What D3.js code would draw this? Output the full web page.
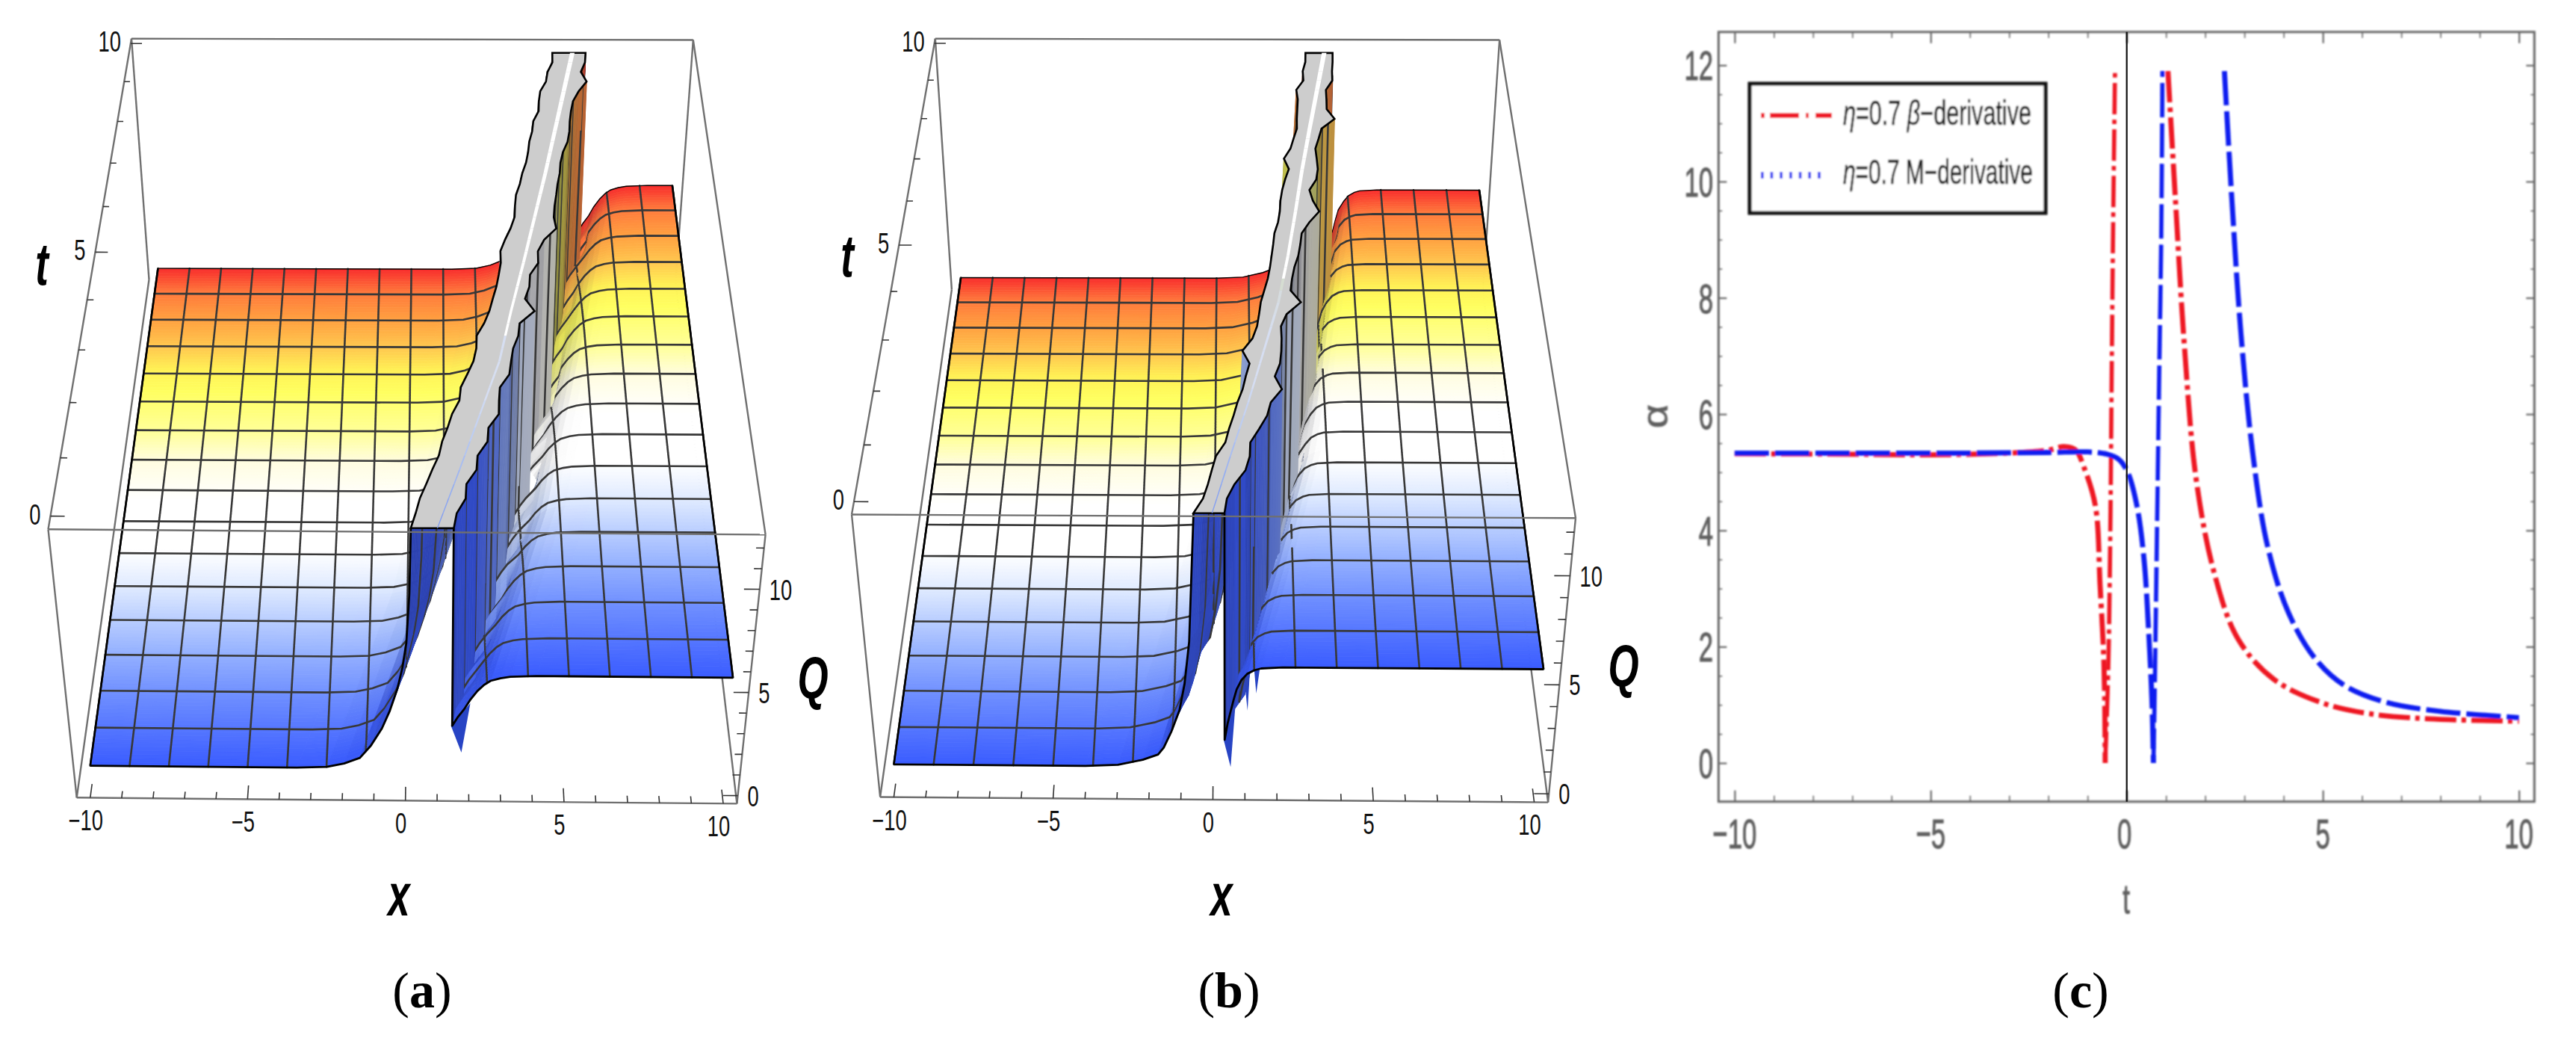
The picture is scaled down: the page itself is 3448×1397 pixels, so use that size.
<!DOCTYPE html>
<html>
<head>
<meta charset="utf-8">
<script src="https://cdnjs.cloudflare.com/ajax/libs/d3/7.8.5/d3.min.js"></script>
<style>
  body { margin: 0; background: #fff; }
  text { font-family: "Liberation Sans", Arial, sans-serif; }
</style>
</head>
<body>
<div id="chart"></div>
<script>
// ---- surface data (a) and (b) ----
var rowT = d3.range(0, 10.25, 0.25);
var bandLeftA = [0.15,0.29,0.41,0.6,0.78,0.98,1.08,1.25,1.39,1.62,1.67,1.88,2.08,2.18,2.2,2.45,2.63,2.75,2.88,2.97,3.05,3.05,3.22,3.42,3.57,3.6,3.65,3.8,3.9,4.05,4.14,4.2,4.32,4.38,4.59,4.62,4.69,4.92,5.0,5.2,5.22];
var bandRightA = [1.41,1.5,1.77,1.8,2.11,2.15,2.46,2.5,2.83,2.85,2.89,3.2,3.27,3.35,3.53,3.59,4.09,3.8,3.96,4.0,4.29,4.3,4.53,4.96,4.9,4.95,5.03,5.1,5.2,5.25,5.36,5.55,5.64,5.68,5.75,5.85,6.08,6.4,6.22,6.4,6.45];
var bandLeftB = [-0.57,-0.3,-0.16,-0.05,0.07,0.35,0.46,0.6,0.72,0.88,0.98,1.1,0.88,1.2,1.35,1.42,1.48,1.6,1.72,1.8,1.86,1.92,1.97,2.1,2.17,2.2,2.27,2.38,2.52,2.36,2.6,2.72,2.85,2.86,2.89,2.92,2.88,3.15,3.14,3.25,3.27];
var bandRightB = [0.33,0.4,0.62,0.95,1.08,1.1,1.37,1.62,1.74,2.09,1.88,2.05,2.1,2.12,2.11,2.3,2.77,2.45,2.51,2.6,2.74,2.82,2.88,3.15,3.5,3.3,3.2,3.45,3.52,3.5,3.47,3.6,3.72,4.2,3.94,3.95,3.95,4.2,4.21,4.25,4.27];
var crestT = d3.range(0, 11, 1);
var crestA = [0.93,1.6,2.25,2.9,3.33,3.8,4.25,4.7,5.12,5.54,5.96];
var crestB = [-0.03,0.5,1.05,1.55,2.05,2.4,2.7,2.98,3.3,3.63,3.96];

// height against distance from the band edge
var leftDistA = [-3.6,-2.65,-2.1,-1.6,-1.25,-0.9,-0.65,-0.4,-0.25,-0.13,-0.04,0];
var leftQA = [0.5,0.55,0.72,1.0,1.6,2.44,3.3,4.4,5.4,6.6,9.0,12.2];
var rightDistA = [0,0.04,0.2,0.4,0.6,0.8,1.0,1.2,1.5,1.8,2.6];
var rightQA = [12.2,2.6,3.0,3.4,3.9,4.3,4.6,4.8,4.93,5.0,5.05];
var leftDistB = [-3.4,-2.38,-1.6,-1.12,-0.94,-0.7,-0.46,-0.3,-0.15,-0.1,0];
var leftQB = [0.5,0.56,0.8,1.05,1.37,2.1,3.1,4.3,6.26,8.2,12.2];
var rightDistB = [0,0.03,0.12,0.2,0.3,0.39,0.55,0.73,0.95,1.15,1.8];
var rightQB = [12.2,1.75,2.5,3.0,3.6,4.07,4.5,4.8,4.97,5.05,5.1];

// little numeric spikes under the front edge: [x, Q] triples at t = 0
var spikesA = [[[1.41,2.6],[1.75,1.3],[2.0,3.7]]];
var spikesB = [[[0.33,1.75],[0.55,0.5],[0.72,4.07]], [[0.95,4.6],[1.06,3.1],[1.12,4.9]], [[1.25,5.0],[1.32,3.9],[1.42,5.05]]];

// colour function of the surfaces, along t
var colorT = [0,1.2,2,3.1,3.8,4.8,5.6,6.2,7.1,7.6,8.1,8.75,9.4,10];
var colorHex = ["#3a5cff","#6f8fff","#9ab5ff","#dfeaff","#ffffff","#ffffff","#fffde0","#ffff9a","#ffff60","#fff055","#ffc84f","#ffa040","#ff7a3c","#f82c2c"];

// ---- panel (c) curves ----
var redLeftT = [-10,-7,-5,-3,-2,-1.6,-1.3,-1.1,-0.8,-0.68,-0.58,-0.55];
var redLeftY = [5.32,5.31,5.3,5.33,5.38,5.44,5.38,5.1,4.42,3.05,1.67,0];
var redUpT = [-0.55,-0.47,-0.42,-0.39,-0.35,-0.3];
var redUpY = [0,1.67,3.96,6.25,9.1,11.9];
var redRightT = [1.05,1.24,1.47,1.77,2.23,2.84,3.75,4.96,6.17,7.7,10];
var redRightY = [11.9,9.7,7.17,4.88,3.27,2.13,1.44,1.04,0.85,0.76,0.72];
var blueLeftT = [-10,-7,-4,-2,-1,-0.5,-0.2,0.03,0.26,0.44,0.56,0.64,0.68];
var blueLeftY = [5.33,5.33,5.33,5.34,5.35,5.31,5.22,4.99,4.42,3.5,2.24,1.1,0];
var blueUpT = [0.68,0.71,0.77,0.83,0.88,0.91];
var blueUpY = [0,1.1,3.96,6.82,9.1,11.9];
var blueRightT = [2.49,2.68,2.91,3.21,3.59,4.12,4.81,5.56,6.63,7.99,10];
var blueRightY = [11.9,9.69,7.4,5.34,3.73,2.59,1.79,1.33,1.04,0.89,0.78];
var cTicksX = [-10,-5,0,5,10];
var cTicksY = [0,2,4,6,8,10,12];

var clipQ = 12.2, gridX = d3.range(-10, 10.01, 1.25), stepT = 0.0625;

var svg = d3.select("#chart").append("svg")
    .attr("width", 3448).attr("height", 1397)
    .style("display", "block");

svg.append("defs").append("filter").attr("id", "soft")
    .attr("filterUnits", "userSpaceOnUse")
    .attr("x", 2150).attr("y", 0).attr("width", 1298).attr("height", 1300)
  .append("feGaussianBlur").attr("stdDeviation", 0.8);

var uScale = d3.scaleLinear().domain([-10.43, 10.43]).range([0, 1]);
var vScale = d3.scaleLinear().domain([-0.22, 10.13]).range([0, 1]);
var qScale = d3.scaleLinear().domain([-0.39, 12.65]).range([0, 1]);
var tempColor = d3.scaleLinear().domain(colorT).range(colorHex);
// how far the walls lag behind the flats in colour
var wallLag = d3.scaleLinear().domain([4.5, 7]).range([1.3, 0]).clamp(true);

// unit square to a quadrilateral, corners: front L, front R, back R, back L
function quadMap(p) {
  var x0=p[0][0],y0=p[0][1],x1=p[1][0],y1=p[1][1],x2=p[2][0],y2=p[2][1],x3=p[3][0],y3=p[3][1];
  var dx1=x1-x2, dx2=x3-x2, sx=x0-x1+x2-x3, dy1=y1-y2, dy2=y3-y2, sy=y0-y1+y2-y3;
  var den=dx1*dy2-dx2*dy1, g=(sx*dy2-dx2*sy)/den, h=(dx1*sy-sx*dy1)/den;
  var a=x1-x0+g*x1, b=x3-x0+h*x3, d=y1-y0+g*y1, e=y3-y0+h*y3;
  return function(u, v) {
    var w=g*u+h*v+1;
    return [(a*u+b*v+x0)/w, (d*u+e*v+y0)/w];
  };
}

function drawSurface(cfg) {
  var g = svg.append("g");
  var bottom = quadMap(cfg.bottomCorners), top = quadMap(cfg.topCorners);

  function project(x, t, Q) {
    var u=uScale(x), v=vScale(t), q=qScale(Q), b=bottom(u,v), a=top(u,v);
    return [b[0]+(a[0]-b[0])*q, b[1]+(a[1]-b[1])*q];
  }

  var edgeL = d3.scaleLinear().domain(rowT).range(cfg.bandLeft);
  var edgeR = d3.scaleLinear().domain(rowT).range(cfg.bandRight);
  var crest = d3.scaleLinear().domain(crestT).range(cfg.crest);
  var leftProfile = d3.scaleLinear().domain(cfg.leftDist).range(cfg.leftQ).clamp(true);
  var rightProfile = d3.scaleLinear().domain(cfg.rightDist).range(cfg.rightQ).clamp(true);

  // near knots follow the jagged edge, far ones the smooth crest
  function leftKnot(s, t) { return s >= -0.5 ? edgeL(t)+s : crest(t)+cfg.gapL+s; }
  function rightKnot(s, t) { return s < 0.5 ? edgeR(t)+s : crest(t)+cfg.gapR+s; }

  function surfaceAt(x, t) {
    var l=edgeL(t), r=edgeR(t), s;
    if (x < l) {
      s = x-l;
      if (s < -0.5) s = x-crest(t)-cfg.gapL;
      return {side:"L", Q:leftProfile(s)};
    }
    if (x > r) {
      s = x-r;
      if (s >= 0.5) s = x-crest(t)-cfg.gapR;
      return {side:"R", Q:rightProfile(s)};
    }
    return {side:"band", Q:clipQ};
  }

  // one row of the mesh as [x,t,Q] nodes
  function leftRow(t) {
    var row = [[-10, t, cfg.leftQ[0]]];
    cfg.leftDist.forEach(function(s, i) { row.push([leftKnot(s, t), t, cfg.leftQ[i]]); });
    return row;
  }
  function rightRow(t) {
    var row = [];
    cfg.rightDist.forEach(function(s, i) { row.push([rightKnot(s, t), t, cfg.rightQ[i]]); });
    row.push([10, t, cfg.rightQ[cfg.rightQ.length-1]]);
    return row;
  }

  var shape = d3.line().x(function(d){ return d[0]; }).y(function(d){ return d[1]; });
  function pathOf(nodes) {
    return shape(nodes.map(function(n){ return project(n[0], n[1], n[2]); }));
  }

  function quadFill(a, b, c, d, t) {
    // normal from the two diagonals, in rough screen proportions
    var e1=[(c[0]-a[0])*58,(c[1]-a[1])*80,(c[2]-a[2])*31];
    var e2=[(d[0]-b[0])*58,(d[1]-b[1])*80,(d[2]-b[2])*31];
    var n=[e1[1]*e2[2]-e1[2]*e2[1], e1[2]*e2[0]-e1[0]*e2[2], e1[0]*e2[1]-e1[1]*e2[0]];
    var len=Math.sqrt(n[0]*n[0]+n[1]*n[1]+n[2]*n[2]) || 1;
    var dot=Math.abs((-0.15*n[0]-0.5*n[1]+0.85*n[2])/len);
    var steep=Math.max(0, 1-dot/0.85);
    // the lower walls keep the deep end of the colours for longer than the flats do
    var base=tempColor(Math.max(0, t-wallLag(t)*steep));
    var lum=d3.lab(base).l/100;
    var amt=Math.min(0.5, steep*0.5)*(0.45+0.55*lum);
    return d3.interpolateRgb(base, "#14141e")(amt);
  }

  function addQuad(r1, r2, i, t) {
    var a=r1[i], b=r1[i+1], c=r2[i+1], d=r2[i];
    var col=quadFill(a, b, c, d, t);
    g.append("path").attr("d", pathOf([a,b,c,d])+"Z")
        .attr("fill", col).attr("stroke", col).attr("stroke-width", 0.8);
  }

  function gridLine(nodes) {
    g.append("path").attr("d", pathOf(nodes)).attr("fill", "none")
        .attr("stroke", "#383838").attr("stroke-width", 2.6).attr("stroke-linecap", "round");
  }

  function boundary(nodes, width) {
    g.append("path").attr("d", pathOf(nodes)).attr("fill", "none")
        .attr("stroke", "#000").attr("stroke-width", width).attr("stroke-linejoin", "round");
  }

  // spikes go underneath everything
  cfg.spikes.forEach(function(tri) {
    g.append("path").attr("d", pathOf(tri.map(function(p){ return [p[0], 0, p[1]]; }))+"Z")
        .attr("fill", "#2744c4");
  });

  // painter's order, back rows first
  var nStrips = Math.round(10/stepT);
  for (var i = nStrips-1; i >= 0; i--) {
    var t1 = i*stepT, t2 = (i+1)*stepT, tMid = (t1+t2)/2;
    var lNear=leftRow(t1), lFar=leftRow(t2), rNear=rightRow(t1), rFar=rightRow(t2), k;
    for (k = 0; k < lNear.length-1; k++) addQuad(lNear, lFar, k, tMid);
    for (k = rNear.length-2; k >= 0; k--) addQuad(rNear, rFar, k, tMid);

    gridX.forEach(function(x) {
      var a=surfaceAt(x,t1), b=surfaceAt(x,t2);
      if (a.side == b.side && a.side != "band") gridLine([[x,t1,a.Q],[x,t2,b.Q]]);
      else if (a.side == "R" && b.side == "band") gridLine([[x,t1,a.Q],[x,t2,clipQ]]);
      else if (a.side == "band" && b.side == "L") gridLine([[x,t1,clipQ],[x,t2,b.Q]]);
    });
    // the row lies on the far side of this strip, so it goes after the strip
    if ((i+1) % 10 == 0 && i+1 < nStrips) { gridLine(lFar); gridLine(rFar); }
    if (i == nStrips-1) { boundary(lFar, 1.4); boundary(rFar, 1.4); }
  }

  // clipped top of the pole
  var bandNodes = rowT.map(function(t, i){ return [cfg.bandLeft[i], t, clipQ]; })
      .concat(rowT.map(function(t, i){ return [cfg.bandRight[i], t, clipQ]; }).reverse());
  g.append("path").attr("d", pathOf(bandNodes)+"Z")
      .attr("fill", "#cdcdcd").attr("stroke", "#000").attr("stroke-width", 2.6);

  // thin opening along the pole
  var openWidth = d3.scaleLinear().domain([0, 10]).range([0.015, 0.085]);
  crestT.slice(0, -1).forEach(function(t) {
    d3.range(t, t+0.99, 0.25).forEach(function(tt) {
      var t3=tt+0.25, w1=openWidth(tt), w2=openWidth(t3);
      var fill = tt >= cfg.whiteFrom ? "#fff" : d3.interpolateRgb(tempColor(tt+1.5), "#8aa0d8")(0.35);
      g.append("path").attr("d", pathOf([[crest(tt)-w1,tt,clipQ],[crest(tt)+w1,tt,clipQ],[crest(t3)+w2,t3,clipQ],[crest(t3)-w2,t3,clipQ]])+"Z")
          .attr("fill", fill);
    });
  });

  // black mesh boundary
  boundary(leftRow(0), 2.8);
  boundary(rightRow(0), 2.8);
  boundary([[-10,0,cfg.leftQ[0]],[-10,10,cfg.leftQ[0]]], 2.6);
  var qEnd = cfg.rightQ[cfg.rightQ.length-1];
  boundary([[10,0,qEnd],[10,10,qEnd]], 2.6);

  // box
  var xA=uScale.domain()[0], xB=uScale.domain()[1], tA=vScale.domain()[0], tB=vScale.domain()[1], qA=qScale.domain()[0], qB=qScale.domain()[1];
  var boxG = g.append("g").attr("fill", "none").attr("stroke", "#707070").attr("stroke-width", 2.4);
  var backEdges = [
    [[xA,tB,qB],[xB,tB,qB]], [[xA,tA,qB],[xA,tB,qB]], [[xB,tA,qB],[xB,tB,qB]],
    [[xA,tB,qA],[xA,tB,qB]], [[xB,tB,qA],[xB,tB,qB]], [[xA,tA,qA],[xA,tB,qA]], [[xB,tA,qA],[xB,tB,qA]]
  ];
  var backG = svg.insert("g", "g").attr("fill", "none").attr("stroke", "#707070").attr("stroke-width", 2.4);
  backEdges.forEach(function(e){ backG.append("path").attr("d", pathOf(e)); });
  [[[xA,tA,qB],[xB,tA,qB]], [[xA,tA,qA],[xB,tA,qA]], [[xA,tA,qA],[xA,tA,qB]], [[xB,tA,qA],[xB,tA,qB]]]
    .forEach(function(e){ boxG.append("path").attr("d", pathOf(e)); });

  // ticks and their labels
  var tickG = g.append("g").attr("stroke", "#333").attr("stroke-width", 1.6).attr("fill", "none");
  function label(p, txt, anchor) {
    g.append("text").attr("transform", "translate("+p[0]+","+p[1]+") scale(0.72,1)")
        .attr("font-size", 38).attr("text-anchor", anchor).attr("fill", "#111").text(txt);
  }
  d3.range(-10, 11, 1).forEach(function(x) {
    var major = x % 5 == 0;
    tickG.append("path").attr("d", pathOf([[x,tA,qA],[x,tA+(major?0.22:0.11),qA]]));
    if (major) {
      var p = project(x, tA, qA);
      label([p[0]-6, p[1]+44], x < 0 ? "\u2212"+(-x) : String(x), "middle");
    }
  });
  d3.range(0, 11, 1).forEach(function(t) {
    var major = t % 5 == 0;
    tickG.append("path").attr("d", pathOf([[xA,t,qB],[xA+(major?0.42:0.21),t,qB]]));
    if (major) {
      var p = project(xA, t, qB);
      label([p[0]-13, p[1]+11], String(t), "end");
    }
  });
  d3.range(0, 13, 1).forEach(function(q) {
    var major = q % 5 == 0;
    tickG.append("path").attr("d", pathOf([[xB,tA,q],[xB-(major?0.46:0.23),tA,q]]));
    if (major) {
      var p = project(xB, tA, q);
      label([p[0]+13, p[1]+14], String(q), "start");
    }
  });

  // axis letters
  cfg.titles.forEach(function(d) {
    g.append("text").attr("transform", "translate("+d.x+","+d.y+") scale(0.66,1)")
        .attr("font-size", 80).attr("font-weight", 700).attr("font-style", "italic")
        .attr("text-anchor", "middle").attr("fill", "#000").text(d.text);
  });
}

drawSurface({
  bottomCorners: [[102.7,1067.3],[986.4,1075.4],[904.3,376],[199.5,374.2]],
  topCorners: [[64.5,708.3],[1024.6,715.4],[927.8,53.5],[176,51.7]],
  bandLeft: bandLeftA, bandRight: bandRightA, crest: crestA,
  leftDist: leftDistA, leftQ: leftQA, rightDist: rightDistA, rightQ: rightQA,
  gapL: -0.77, gapR: 0.48, whiteFrom: 3.5, spikes: spikesA,
  titles: [{text:"t", x:56, y:381}, {text:"x", x:534, y:1225}, {text:"Q", x:1088, y:934}]
});

drawSurface({
  bottomCorners: [[1178.1,1066.5],[2072.1,1073.6],[1985,389.3],[1273.9,387.6]],
  topCorners: [[1140,688.5],[2109,693.2],[2007.1,53.5],[1251.8,51.7]],
  bandLeft: bandLeftB, bandRight: bandRightB, crest: crestB,
  leftDist: leftDistB, leftQ: leftQB, rightDist: rightDistB, rightQ: rightQB,
  gapL: -0.56, gapR: 0.34, whiteFrom: 4.5, spikes: spikesB,
  titles: [{text:"t", x:1134, y:370}, {text:"x", x:1635, y:1225}, {text:"Q", x:2173, y:918}]
});

// ---- panel (c) ----
var cG = svg.append("g").attr("filter", "url(#soft)");
var xC = d3.scaleLinear().domain([-10, 10]).range([2321.8, 3371.6]);
var yC = d3.scaleLinear().domain([0, 12]).range([1021, 87.3]);
var frame = {left: 2300.3, right: 3392.3, top: 42.8, bottom: 1072.7};

function cAxis(axis, transform, values, size, isMinor) {
  var a = cG.append("g").attr("transform", transform)
      .call(axis.tickValues(values).tickSize(size).tickFormat(""));
  a.select(".domain").remove();
  a.selectAll("line").attr("stroke", "#666").attr("stroke-width", isMinor ? 1.6 : 2.2);
  a.selectAll("text").remove();
}
var minorX = d3.range(-10, 11, 1).filter(function(v){ return v % 5 != 0; });
var minorY = d3.range(0, 12.5, 0.5).filter(function(v){ return v % 2 != 0; });
cAxis(d3.axisBottom(xC), "translate(0,"+frame.bottom+")", cTicksX, -15, false);
cAxis(d3.axisBottom(xC), "translate(0,"+frame.bottom+")", minorX, -8, true);
cAxis(d3.axisTop(xC), "translate(0,"+frame.top+")", cTicksX, -15, false);
cAxis(d3.axisTop(xC), "translate(0,"+frame.top+")", minorX, -8, true);
cAxis(d3.axisLeft(yC), "translate("+frame.left+",0)", cTicksY, -11, false);
cAxis(d3.axisLeft(yC), "translate("+frame.left+",0)", minorY, -5, true);
cAxis(d3.axisRight(yC), "translate("+frame.right+",0)", cTicksY, -11, false);
cAxis(d3.axisRight(yC), "translate("+frame.right+",0)", minorY, -5, true);

cG.append("rect").attr("x", frame.left).attr("y", frame.top)
    .attr("width", frame.right-frame.left).attr("height", frame.bottom-frame.top)
    .attr("fill", "none").attr("stroke", "#666").attr("stroke-width", 3);

function cLabel(x, y, txt, anchor) {
  cG.append("text").attr("transform", "translate("+x+","+y+") scale(0.62,1)")
      .attr("font-size", 56).attr("text-anchor", anchor).attr("fill", "#5e5e5e")
      .attr("stroke", "#5e5e5e").attr("stroke-width", 1.1).text(txt);
}
cTicksX.forEach(function(v) {
  cLabel(xC(v)-(v == 0 ? 3 : 0), 1135, v < 0 ? "\u2212"+(-v) : String(v), "middle");
});
cTicksY.forEach(function(v) { cLabel(2293, yC(v)+20, String(v), "end"); });
cLabel(2846, 1222, "t", "middle");
cG.append("text").attr("transform", "translate(2232,557) rotate(-90) scale(1,0.85)")
    .attr("font-size", 56).attr("text-anchor", "middle").attr("fill", "#5e5e5e")
    .attr("stroke", "#5e5e5e").attr("stroke-width", 0.8).text("\u03b1");

var curve = d3.line().x(function(d){ return xC(d[0]); }).y(function(d){ return yC(d[1]); })
    .curve(d3.curveCatmullRom.alpha(0.5));
function series(ts, ys, color, dash, width) {
  cG.append("path").datum(d3.zip(ts, ys)).attr("d", curve).attr("fill", "none")
      .attr("stroke", color).attr("stroke-width", width).attr("stroke-dasharray", dash);
}
var redDash = "42,7,6,7", blueDash = "46,8";
series(redLeftT, redLeftY, "#ee1520", redDash, 6.8);
series(redUpT, redUpY, "#ee1520", redDash, 5.6);
series(redRightT, redRightY, "#ee1520", redDash, 6.8);
series(blueLeftT, blueLeftY, "#0a1cf0", blueDash, 6.8);
series(blueUpT, blueUpY, "#0a1cf0", blueDash, 5.6);
series(blueRightT, blueRightY, "#0a1cf0", blueDash, 6.8);

// legend
cG.append("rect").attr("x", 2342).attr("y", 112).attr("width", 396).attr("height", 173)
    .attr("fill", "#fff").attr("stroke", "#0c0c0c").attr("stroke-width", 5);
cG.append("line").attr("x1", 2357).attr("x2", 2452).attr("y1", 154.5).attr("y2", 154.5)
    .attr("stroke", "#ee1520").attr("stroke-width", 6.5).attr("stroke-dasharray", "5,7,39,9,4,9,22");
cG.append("line").attr("x1", 2357).attr("x2", 2442).attr("y1", 234.5).attr("y2", 234.5)
    .attr("stroke", "#0a1cf0").attr("stroke-width", 9).attr("stroke-dasharray", "3.5,9.2");
[{y:167, len:252, sym:"\u03b2", rest:"\u2212derivative"}, {y:246, len:254, sym:null, rest:"M\u2212derivative"}].forEach(function(d) {
  var tx = cG.append("text").attr("font-size", 46)
      .attr("fill", "#0a0a0a").attr("stroke", "#0a0a0a").attr("stroke-width", 0.5);
  tx.append("tspan").attr("font-style", "italic").text("\u03b7");
  tx.append("tspan").text("=0.7 ");
  if (d.sym) tx.append("tspan").attr("font-style", "italic").text(d.sym);
  tx.append("tspan").text(d.rest);
  // squeeze to the narrow width the original has
  tx.attr("transform", "translate(2467,"+d.y+") scale("+(d.len/tx.node().getComputedTextLength())+",1)");
});

// zero line stays sharp, drawn outside the blurred group
svg.append("line").attr("x1", xC(0)).attr("x2", xC(0)).attr("y1", frame.top).attr("y2", frame.bottom)
    .attr("stroke", "#111").attr("stroke-width", 2.2);

// captions
[{x:565, l:"a"}, {x:1645, l:"b"}, {x:2785, l:"c"}].forEach(function(d) {
  var tx = svg.append("text").attr("x", d.x).attr("y", 1348).attr("text-anchor", "middle")
      .attr("font-size", 68).style("font-family", "'Liberation Serif', serif").attr("fill", "#000");
  tx.append("tspan").text("(");
  tx.append("tspan").attr("font-weight", 700).text(d.l);
  tx.append("tspan").text(")");
});
</script>
</body>
</html>
